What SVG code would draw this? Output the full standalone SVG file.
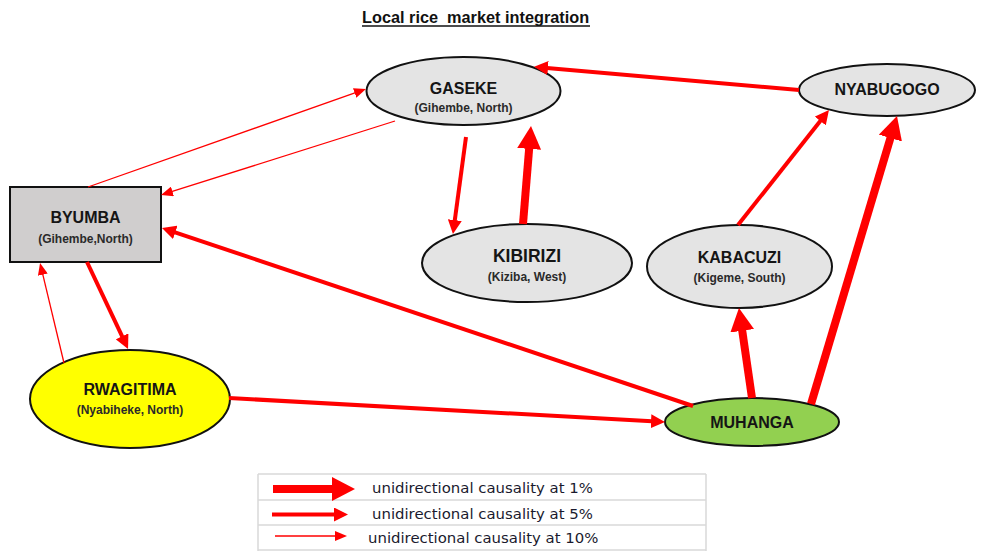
<svg xmlns="http://www.w3.org/2000/svg" width="988" height="551" viewBox="0 0 988 551">
  <style>
    .node { stroke: #111; stroke-width: 2; }
    .name { font-family: "Liberation Sans", Arial, sans-serif; font-weight: bold; font-size: 16px; fill: #151515; text-anchor: middle; }
    .sub { font-family: "Liberation Sans", Arial, sans-serif; font-weight: bold; font-size: 12px; fill: #2a2a2a; text-anchor: middle; }
    .title { font-family: "Liberation Sans", Arial, sans-serif; font-weight: bold; font-size: 16.3px; fill: #111; white-space: pre; }
    .c1 { stroke: #ff0000; stroke-width: 8; fill: none; }
    .c5 { stroke: #ff0000; stroke-width: 4; fill: none; }
    .c10 { stroke: #ff0000; stroke-width: 1.3; fill: none; }
    .grid { stroke: #d9d9d9; stroke-width: 1.5; }
    .legend-text { font-family: "DejaVu Sans", Verdana, sans-serif; font-size: 14.9px; fill: #1a1a2e; }
  </style>
  <defs>
    <marker id="head1" markerUnits="userSpaceOnUse" viewBox="0 -12 23 24" refX="1" refY="0" markerWidth="23" markerHeight="24" orient="auto">
      <path d="M0,-12 L23,0 L0,12 z" fill="#ff0000"/>
    </marker>
    <marker id="head5" markerUnits="userSpaceOnUse" viewBox="0 -7 14 14" refX="1" refY="0" markerWidth="14" markerHeight="14" orient="auto">
      <path d="M0,-7 L14,0 L0,7 z" fill="#ff0000"/>
    </marker>
    <marker id="head10" markerUnits="userSpaceOnUse" viewBox="0 -5 12 10" refX="1" refY="0" markerWidth="12" markerHeight="10" orient="auto">
      <path d="M0,-5 L12,0 L0,5 z" fill="#ff0000"/>
    </marker>
  </defs>

  <rect width="988" height="551" fill="#ffffff"/>

  <!-- title -->
  <text class="title" x="362" y="23">Local rice  market integration</text>
  <line x1="362" y1="26" x2="590" y2="26" stroke="#111" stroke-width="1.3"/>

  <!-- nodes -->
  <g id="gaseke">
    <ellipse class="node" cx="463.5" cy="91" rx="97" ry="34" fill="#e4e4e4"/>
    <text class="name" x="463.5" y="94">GASEKE</text>
    <text class="sub" x="463.5" y="112">(Gihembe, North)</text>
  </g>
  <g id="nyabugogo">
    <ellipse class="node" cx="887" cy="90" rx="88" ry="26" fill="#e4e4e4"/>
    <text class="name" x="887" y="95">NYABUGOGO</text>
  </g>
  <g id="byumba">
    <rect class="node" x="10" y="187" width="151" height="75" fill="#d0cece"/>
    <text class="name" x="85.5" y="223">BYUMBA</text>
    <text class="sub" x="85.5" y="243">(Gihembe,North)</text>
  </g>
  <g id="kibirizi">
    <ellipse class="node" cx="527" cy="263" rx="105" ry="39" fill="#e4e4e4"/>
    <text class="name" x="527" y="262" style="font-size:17.5px">KIBIRIZI</text>
    <text class="sub" x="527" y="281">(Kiziba, West)</text>
  </g>
  <g id="kabacuzi">
    <ellipse class="node" cx="739.5" cy="266.5" rx="92.5" ry="41.5" fill="#e4e4e4"/>
    <text class="name" x="739.5" y="263">KABACUZI</text>
    <text class="sub" x="739.5" y="282">(Kigeme, South)</text>
  </g>
  <g id="rwagitima">
    <ellipse class="node" cx="130" cy="399" rx="100" ry="49" fill="#ffff00"/>
    <text class="name" x="130" y="395">RWAGITIMA</text>
    <text class="sub" x="130" y="414">(Nyabiheke, North)</text>
  </g>
  <g id="muhanga">
    <ellipse class="node" cx="752" cy="422" rx="87" ry="24" fill="#92d050"/>
    <text class="name" x="752" y="428">MUHANGA</text>
  </g>

  <!-- connectors: thick = 1%, medium = 5%, thin = 10% -->
  <g id="connectors">
    <line class="c5" x1="799" y1="90" x2="547" y2="68" marker-end="url(#head5)"/>
    <line class="c1" x1="523" y1="224" x2="529.2" y2="147.9" marker-end="url(#head1)"/>
    <line class="c5" x1="466" y1="137" x2="454.7" y2="221.1" marker-end="url(#head5)"/>
    <line class="c10" x1="395" y1="121" x2="171.5" y2="191.7" marker-end="url(#head10)"/>
    <line class="c10" x1="88" y1="187" x2="355.6" y2="92.7" marker-end="url(#head10)"/>
    <line class="c5" x1="693" y1="406" x2="174.3" y2="232.1" marker-end="url(#head5)"/>
    <line class="c5" x1="87" y1="262" x2="122.5" y2="337.2" marker-end="url(#head5)"/>
    <line class="c10" x1="64" y1="363" x2="42.6" y2="273.7" marker-end="url(#head10)"/>
    <line class="c5" x1="229" y1="398" x2="652" y2="421.3" marker-end="url(#head5)"/>
    <line class="c1" x1="752" y1="398" x2="742.1" y2="329.8" marker-end="url(#head1)"/>
    <line class="c1" x1="811" y1="404" x2="890.7" y2="137.1" marker-end="url(#head1)"/>
    <line class="c5" x1="738" y1="225" x2="820.9" y2="120.2" marker-end="url(#head5)"/>
  </g>

  <!-- legend -->
  <g id="legend">
    <line class="grid" x1="258" y1="474" x2="706" y2="474"/>
    <line class="grid" x1="258" y1="500" x2="706" y2="500"/>
    <line class="grid" x1="258" y1="525" x2="706" y2="525"/>
    <line class="grid" x1="258" y1="550" x2="706" y2="550"/>
    <line class="grid" x1="258" y1="474" x2="258" y2="551"/>
    <line class="grid" x1="706" y1="474" x2="706" y2="551"/>
    <line class="c1" x1="273" y1="489" x2="333" y2="489" marker-end="url(#head1)"/>
    <line class="c5" x1="272" y1="514.5" x2="335" y2="514.5" marker-end="url(#head5)"/>
    <line class="c10" x1="275" y1="536" x2="336" y2="536" marker-end="url(#head10)"/>
    <text class="legend-text" x="372" y="493">unidirectional causality at 1%</text>
    <text class="legend-text" x="372" y="519">unidirectional causality at 5%</text>
    <text class="legend-text" x="368" y="543">unidirectional causality at 10%</text>
  </g>
</svg>
